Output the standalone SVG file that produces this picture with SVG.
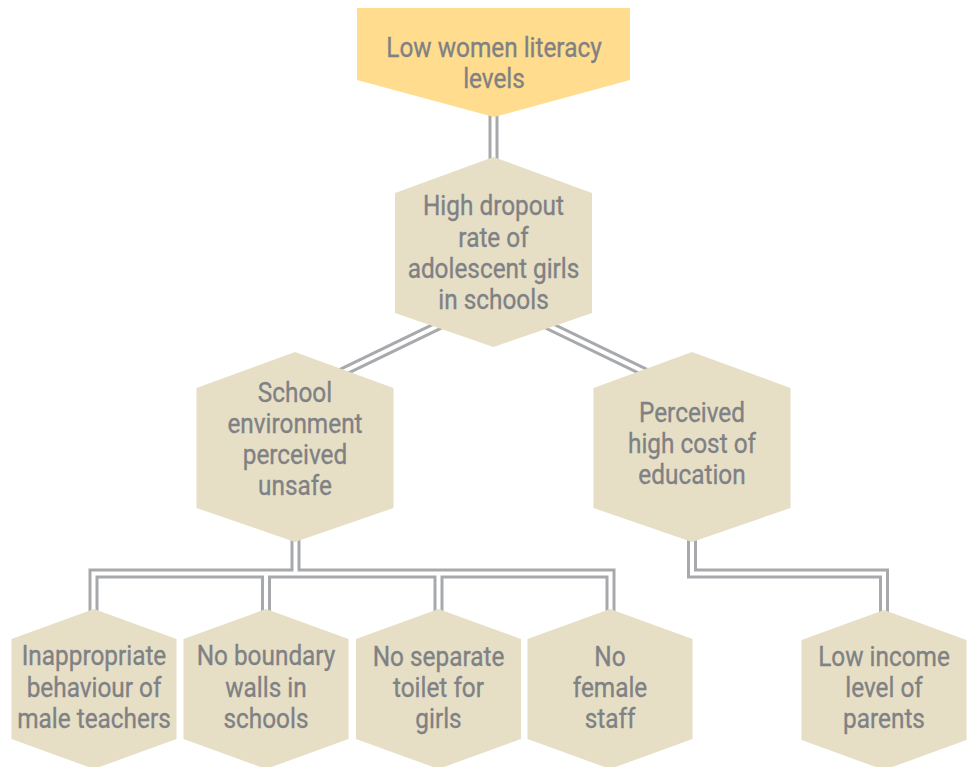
<svg xmlns="http://www.w3.org/2000/svg" width="972" height="767" viewBox="0 0 972 767">
<style>
.hex{fill:#E6DFC6}
.top{fill:#FFDC8E}
.lbl{font-family:Roboto,"Liberation Sans",sans-serif;font-size:28px;fill:#7F8184;stroke:#7F8184;stroke-width:0.35;text-anchor:middle}
.cg{fill:none;stroke:#A7A9AC;stroke-width:10;stroke-linejoin:miter}
.cw{fill:none;stroke:#FFFFFF;stroke-width:4;stroke-linejoin:miter}
</style>
<rect width="972" height="767" fill="#FFFFFF"/>
<g id="connectors">
<path class="cg" d="M493.5 110V165"/>
<path class="cg" d="M493.5 299L295 395M493.5 299L692 395"/>
<path class="cg" d="M295.5 540V573.5H93.5V616M93.5 573.5H610.5V616M266 573.5V616M438.5 573.5V616"/>
<path class="cg" d="M692 540V573.5H884V616"/>
<path class="cw" d="M493.5 110V165"/>
<path class="cw" d="M493.5 299L295 395M493.5 299L692 395"/>
<path class="cw" d="M295.5 540V573.5H93.5V616M93.5 573.5H610.5V616M266 573.5V616M438.5 573.5V616"/>
<path class="cw" d="M692 540V573.5H884V616"/>
</g>
<g id="n-literacy">
<polygon class="top" points="357,8 630,8 630,80 494,117 357,80"/>
<text class="lbl" transform="matrix(0.87 0 0 1 494 0)"><tspan x="0" y="57">Low women literacy</tspan><tspan x="0" y="88">levels</tspan></text>
</g>
<g id="n-dropout">
<polygon class="hex" points="493.5,157 592,193 592,313 493.5,347 395,313 395,193"/>
<text class="lbl" transform="matrix(0.87 0 0 1 493.5 0)"><tspan x="0" y="215">High dropout</tspan><tspan x="0" y="247">rate of</tspan><tspan x="0" y="278">adolescent girls</tspan><tspan x="0" y="309">in schools</tspan></text>
</g>
<g id="n-unsafe">
<polygon class="hex" points="295,352 393.5,388 393.5,508 295,542 196.5,508 196.5,388"/>
<text class="lbl" transform="matrix(0.87 0 0 1 295 0)"><tspan x="0" y="402">School</tspan><tspan x="0" y="433">environment</tspan><tspan x="0" y="464">perceived</tspan><tspan x="0" y="495">unsafe</tspan></text>
</g>
<g id="n-cost">
<polygon class="hex" points="692,352 790.5,388 790.5,508 692,542 593.5,508 593.5,388"/>
<text class="lbl" transform="matrix(0.87 0 0 1 692 0)"><tspan x="0" y="422">Perceived</tspan><tspan x="0" y="453">high cost of</tspan><tspan x="0" y="484">education</tspan></text>
</g>
<g id="n-teachers">
<polygon class="hex" points="94,609 176.5,639 176.5,739 94,769 11.5,739 11.5,639"/>
<text class="lbl" transform="matrix(0.87 0 0 1 94 0)"><tspan x="0" y="665">Inappropriate</tspan><tspan x="0" y="697">behaviour of</tspan><tspan x="0" y="728">male teachers</tspan></text>
</g>
<g id="n-walls">
<polygon class="hex" points="266,609 348.5,639 348.5,739 266,769 183.5,739 183.5,639"/>
<text class="lbl" transform="matrix(0.87 0 0 1 266 0)"><tspan x="0" y="665">No boundary</tspan><tspan x="0" y="697">walls in</tspan><tspan x="0" y="728">schools</tspan></text>
</g>
<g id="n-toilet">
<polygon class="hex" points="438.5,609 521,639 521,739 438.5,769 356,739 356,639"/>
<text class="lbl" transform="matrix(0.87 0 0 1 438.5 0)"><tspan x="0" y="666">No separate</tspan><tspan x="0" y="697">toilet for</tspan><tspan x="0" y="728">girls</tspan></text>
</g>
<g id="n-staff">
<polygon class="hex" points="610,609 692.5,639 692.5,739 610,769 527.5,739 527.5,639"/>
<text class="lbl" transform="matrix(0.87 0 0 1 610 0)"><tspan x="0" y="666">No</tspan><tspan x="0" y="697">female</tspan><tspan x="0" y="728">staff</tspan></text>
</g>
<g id="n-income">
<polygon class="hex" points="884,610 966.5,640 966.5,740 884,770 801.5,740 801.5,640"/>
<text class="lbl" transform="matrix(0.87 0 0 1 884 0)"><tspan x="0" y="666">Low income</tspan><tspan x="0" y="697">level of</tspan><tspan x="0" y="728">parents</tspan></text>
</g>
</svg>
